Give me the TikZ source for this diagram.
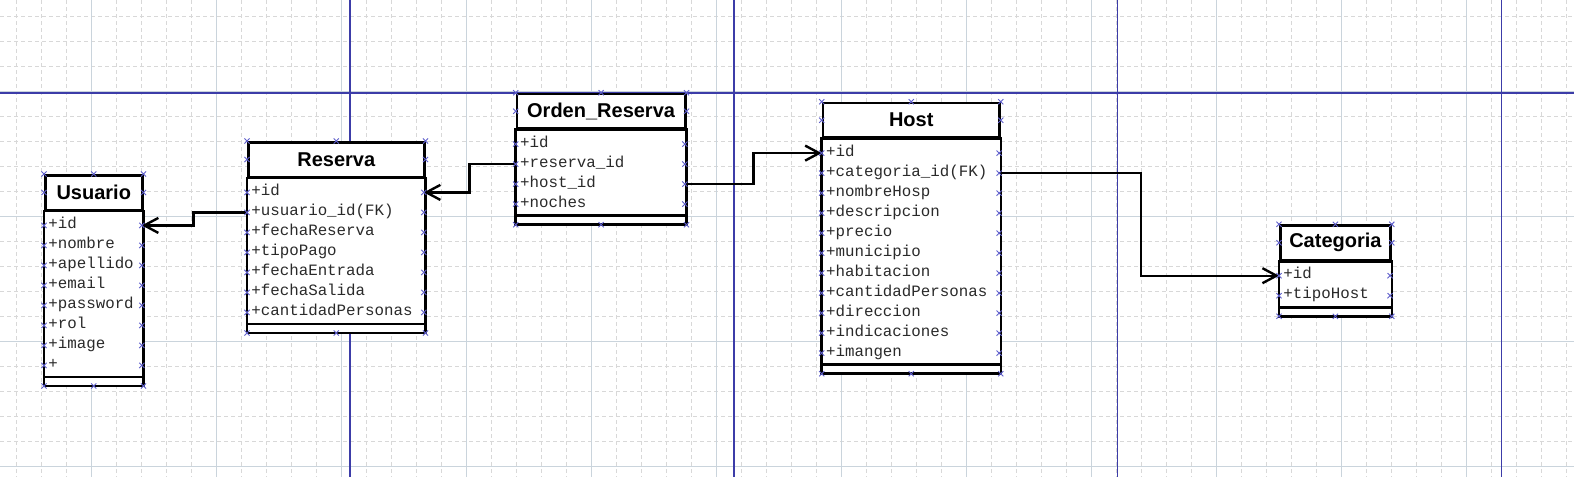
\documentclass[tikz,border=0pt]{standalone}
\usepackage{fontspec}
\setmainfont{Liberation Sans}
\setmonofont{Liberation Mono}
\usetikzlibrary{arrows.meta,positioning,calc}
\definecolor{gridminor}{HTML}{D8D8D8}
\definecolor{gridmajor}{HTML}{CAD4DC}
\definecolor{pageblue}{HTML}{3C3CA8}
\definecolor{handleblue}{HTML}{5F5FCC}
\definecolor{attrgray}{HTML}{2A2A2A}

\begin{document}
\begin{tikzpicture}[
    x=0.5pt, y=-0.5pt,
    gminor/.style={draw=gridminor, line width=0.5pt, dash pattern=on 2pt off 1.5pt},
    gmajor/.style={draw=gridmajor, line width=0.5pt},
    pagebreak/.style={draw=pageblue, line width=0.6pt},
    ctitle/.style={rectangle, draw=black, fill=white, line width=1.25pt, anchor=north west, minimum height=17.25pt, inner sep=0pt, font=\fontsize{10}{12}\selectfont\bfseries},
    attr/.style={rectangle, anchor=north west, minimum height=10pt, text height=6.5pt, text depth=3.5pt, inner xsep=2pt, inner ysep=0pt, align=left, text=attrgray, font=\ttfamily\fontsize{7.9}{10}\selectfont},
    frame/.style={draw=black, fill=white, line width=1.25pt},
    fk/.style={draw=black, line width=1.2pt, -{Straight Barb[length=7pt,width=7.5pt,line width=1.2pt]}},
    hmark/.style={draw=handleblue, line width=0.45pt},
    handle/.pic={\draw[hmark] (-1.3pt,-1.3pt) -- (1.3pt,1.3pt) (-1.3pt,1.3pt) -- (1.3pt,-1.3pt);}
]
  \useasboundingbox (0,0) rectangle (1574,477);
  \fill[white] (0,0) rectangle (1574,477);

  % grid
  \foreach \k in {0,...,62}
    \draw[gminor] ({16.7+25*\k},0) -- ({16.7+25*\k},477);
  \foreach \k in {0,...,18}
    \draw[gminor] (0,{16.7+25*\k}) -- (1574,{16.7+25*\k});
  \foreach \k in {1,...,12}
    \draw[gmajor] ({-33.3+125*\k},0) -- ({-33.3+125*\k},477);
  \foreach \k in {0,...,3}
    \draw[gmajor] (0,{91.7+125*\k}) -- (1574,{91.7+125*\k});
  \foreach \k in {0,...,3}
    \draw[pagebreak] ({350+383.9*\k},0) -- ({350+383.9*\k},477);
  \draw[pagebreak] (0,93) -- (1574,93);

  % Usuario
  \node[ctitle, minimum width=48.5pt] (usr) at (44,174) {Usuario};
  \coordinate (usr-a) at ([yshift=-83pt]usr.south west);
  \coordinate (usr-b) at ([yshift=-4.5pt]usr-a);
  \draw[frame] (usr.south west) rectangle (usr-a -| usr.east);
  \draw[frame] (usr-a) rectangle (usr-b -| usr.east);
  \foreach \attrib [count=\i] in {+id,+nombre,+apellido,+email,+password,+rol,+image,+}
    \node[attr, text width=44.5pt] (usr-r\i) at ([yshift={-2pt-(\i-1)*10pt}]usr.south west) {\attrib};

  % Reserva
  \node[ctitle, minimum width=88pt] (res) at (247,141) {Reserva};
  \coordinate (res-a) at ([yshift=-73pt]res.south west);
  \coordinate (res-b) at ([yshift=-4.5pt]res-a);
  \draw[frame] (res.south west) rectangle (res-a -| res.east);
  \draw[frame] (res-a) rectangle (res-b -| res.east);
  \foreach \attrib [count=\i] in {+id,+usuario\_id(FK),+fechaReserva,+tipoPago,+fechaEntrada,+fechaSalida,+cantidadPersonas}
    \node[attr, text width=84pt] (res-r\i) at ([yshift={-2pt-(\i-1)*10pt}]res.south west) {\attrib};

  % Orden_Reserva
  \node[ctitle, minimum width=84.15pt] (ord) at (515.7,92.7) {Orden\_Reserva};
  \coordinate (ord-a) at ([yshift=-43pt]ord.south west);
  \coordinate (ord-b) at ([yshift=-4.5pt]ord-a);
  \draw[frame] (ord.south west) rectangle (ord-a -| ord.east);
  \draw[frame] (ord-a) rectangle (ord-b -| ord.east);
  \foreach \attrib [count=\i] in {+id,+reserva\_id,+host\_id,+noches}
    \node[attr, text width=80.15pt] (ord-r\i) at ([yshift={-2pt-(\i-1)*10pt}]ord.south west) {\attrib};

  % Host
  \node[ctitle, minimum width=88.3pt] (host) at (821.7,101.7) {Host};
  \coordinate (host-a) at ([yshift=-113pt]host.south west);
  \coordinate (host-b) at ([yshift=-4.5pt]host-a);
  \draw[frame] (host.south west) rectangle (host-a -| host.east);
  \draw[frame] (host-a) rectangle (host-b -| host.east);
  \foreach \attrib [count=\i] in {+id,+categoria\_id(FK),+nombreHosp,+descripcion,+precio,+municipio,+habitacion,+cantidadPersonas,+direccion,+indicaciones,+imangen}
    \node[attr, text width=84.3pt] (host-r\i) at ([yshift={-2pt-(\i-1)*10pt}]host.south west) {\attrib};

  % Categoria
  \node[ctitle, minimum width=55.15pt] (cat) at (1279,224.3) {Categoria};
  \coordinate (cat-a) at ([yshift=-23pt]cat.south west);
  \coordinate (cat-b) at ([yshift=-4.5pt]cat-a);
  \draw[frame] (cat.south west) rectangle (cat-a -| cat.east);
  \draw[frame] (cat-a) rectangle (cat-b -| cat.east);
  \foreach \attrib [count=\i] in {+id,+tipoHost}
    \node[attr, text width=51.15pt] (cat-r\i) at ([yshift={-2pt-(\i-1)*10pt}]cat.south west) {\attrib};

  % foreign keys
  \draw[fk] (res-r2.west) -- ++(-53.7,0) |- (usr-r1.east);
  \draw[fk] (ord-r2.west) -- ++(-46.4,0) |- (res-r1.east);
  \draw[fk] (ord-r3.east) -- ++(68.7,0) |- (host-r1.west);
  \draw[fk] (host-r2.east) -- ++(141.7,0) |- (cat-r1.west);

  % connection handles
  \foreach \c/\n in {usr/8,res/7,ord/4,host/11,cat/2} {
    \pic at (\c.north west) {handle};
    \pic at (\c.north) {handle};
    \pic at (\c.north east) {handle};
    \pic at (\c.west) {handle};
    \pic at (\c.east) {handle};
    \pic at (\c-b) {handle};
    \pic at (\c-b -| \c.north) {handle};
    \pic at (\c-b -| \c.east) {handle};
    \foreach \i in {1,...,\n} {
      \pic at (\c-r\i.west) {handle};
      \pic at (\c-r\i.east) {handle};
    }
  }
\end{tikzpicture}
\end{document}
